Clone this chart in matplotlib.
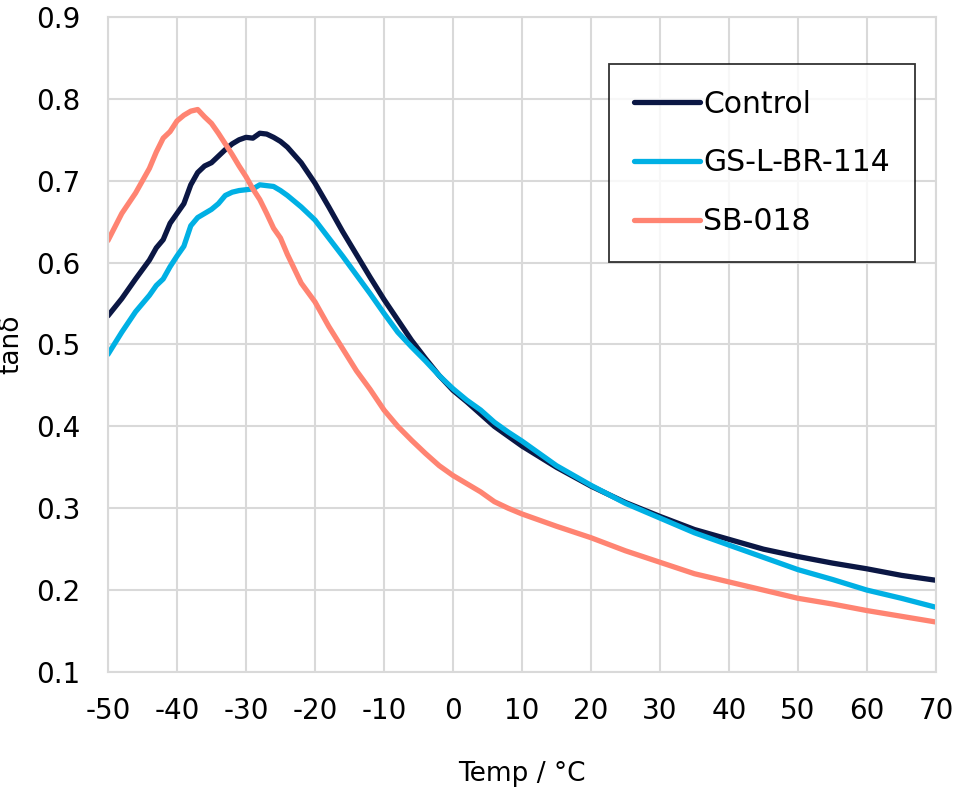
import matplotlib
matplotlib.use("Agg")
import matplotlib.pyplot as plt

plt.rcParams['font.family'] = ['DejaVu Sans']
plt.rcParams['axes.unicode_minus'] = False

temp = [-50, -48, -46, -44, -43, -42, -41, -40, -39, -38, -37, -36, -35, -34, -33,
        -32, -31, -30, -29, -28, -27, -26, -25, -24, -22, -20, -18, -16, -14, -12,
        -10, -8, -6, -4, -2, 0, 2, 4, 6, 8, 10, 15, 20, 25, 30, 35, 40, 45, 50,
        55, 60, 65, 70]

control = [.535, .556, .58, .603, .618, .628, .648, .66, .672, .695, .71, .718, .722,
           .73, .738, .745, .75, .753, .752, .758, .757, .753, .748, .741, .722, .697,
           .668, .638, .61, .582, .555, .53, .505, .483, .462, .444, .43, .415, .4,
           .388, .376, .35, .327, .307, .29, .274, .262, .25, .241, .233, .226, .218,
           .212]

gs_l_br = [.488, .515, .54, .56, .572, .58, .595, .608, .62, .645, .655, .66, .665,
           .672, .682, .686, .688, .689, .69, .695, .694, .693, .688, .682, .668, .652,
           .63, .608, .585, .562, .538, .515, .497, .48, .462, .446, .432, .42, .405,
           .393, .382, .352, .328, .306, .288, .27, .255, .24, .225, .213, .2, .19,
           .179]

sb018 = [.627, .66, .685, .715, .735, .752, .76, .773, .78, .785, .787, .778, .77,
         .758, .745, .732, .718, .705, .69, .677, .66, .642, .63, .61, .575, .552,
         .522, .495, .468, .445, .42, .4, .383, .367, .352, .34, .33, .32, .308, .3,
         .293, .278, .264, .248, .234, .22, .21, .2, .19, .183, .175, .168, .161]

labels = ["Control", "GS-L-BR-114", "SB-018"]
colors = ["#0b1744", "#00b0e4", "#ff8472"]

fig = plt.figure(figsize=(9.59, 7.93), dpi=100)
ax = fig.add_axes([0.1126, 0.1526, 0.8634, 0.826])

for y, lab, c in zip([control, gs_l_br, sb018], labels, colors):
    ax.plot(temp, y, color=c, lw=3.8, label=lab, solid_capstyle='round',
            solid_joinstyle='round')

ax.set_xlim(-50, 70)
ax.set_ylim(0.1, 0.9)
ax.set_xticks(range(-50, 71, 10))
ax.set_yticks([0.1, 0.2, 0.3, 0.4, 0.5, 0.6, 0.7, 0.8, 0.9])
ax.set_yticklabels(["0.1", "0.2", "0.3", "0.4", "0.5", "0.6", "0.7", "0.8", "0.9"])
ax.grid(True, color="#d9d9d9", lw=1.5)
ax.set_axisbelow(True)
for s in ax.spines.values():
    s.set_color("#d9d9d9")
    s.set_linewidth(1.5)
ax.tick_params(axis='x', length=0, labelsize=20, pad=18)
ax.tick_params(axis='y', length=0, labelsize=20, pad=20)

ax.set_xlabel("Temp / °C", fontsize=19, labelpad=26)
ax.set_ylabel("tanδ", fontsize=19, labelpad=8)

leg = ax.legend(loc="upper right", bbox_to_anchor=(0.975, 0.928), fontsize=21.5,
                frameon=True, fancybox=False, handlelength=2.2, handletextpad=0.1,
                labelspacing=1.0, borderpad=0.85, borderaxespad=0)
leg.get_frame().set_edgecolor("black")
leg.get_frame().set_linewidth(1.3)

fig.savefig("out.png", dpi=100)
